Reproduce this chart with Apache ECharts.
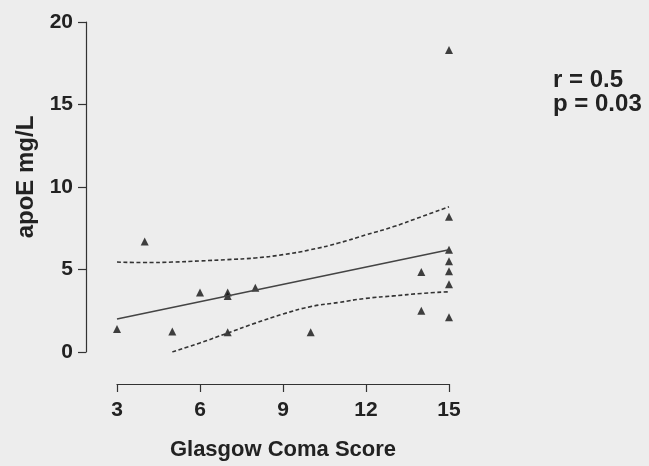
<!DOCTYPE html>
<html><head><meta charset="utf-8">
<script src="https://cdn.jsdelivr.net/npm/echarts@6/dist/echarts.min.js"></script>
<style>html,body{margin:0;padding:0;background:#ededed;}#c{width:649px;height:466px;}</style>
</head><body><div id="c"></div>
<script>
// Data
const gcsX = [3, 4, 5, 6, 7, 7, 7, 8, 10, 14, 14, 15, 15, 15, 15, 15, 15, 15];
const apoE = [1.4, 6.7, 1.25, 3.6, 3.4, 3.6, 1.2, 3.9, 1.2, 4.85, 2.5, 18.3, 8.2, 6.2, 5.5, 4.9, 4.1, 2.1];
const fitX = [3, 15];
const fitY = [2.0, 6.2];
const bandX = [3, 4, 5, 6, 7, 8, 9, 10, 11, 12, 13, 14, 15];
const upperBand = [5.45, 5.42, 5.45, 5.52, 5.6, 5.7, 5.9, 6.2, 6.6, 7.1, 7.6, 8.2, 8.8];
const lowerBand = [null, null, 0, 0.55, 1.15, 1.75, 2.3, 2.75, 3.0, 3.25, 3.4, 3.55, 3.65];
const xTicks = [3, 6, 9, 12, 15];
const yTicks = [0, 5, 10, 15, 20];
const statText = ['r = 0.5', 'p = 0.03'];

const pts = gcsX.map((x, i) => [x, apoE[i]]);
const fit = fitX.map((x, i) => [x, fitY[i]]);
const up = bandX.map((x, i) => [x, upperBand[i]]).filter(d => d[1] !== null);
const lo = bandX.map((x, i) => [x, lowerBand[i]]).filter(d => d[1] !== null);

const ink = '#222';
const font = '"Liberation Sans", Arial, sans-serif';
const chart = echarts.init(document.getElementById('c'));
chart.setOption({
  backgroundColor: '#ededed',
  animation: false,
  grid: { left: 117, right: 200, top: 22, bottom: 114 },
  xAxis: {
    type: 'value', min: 3, max: 15, interval: 3,
    offset: 32,
    name: 'Glasgow Coma Score', nameLocation: 'middle', nameGap: 55,
    nameTextStyle: { color: ink, fontSize: 22, fontWeight: 'bold', fontFamily: font },
    axisLine: { show: true, onZero: false, lineStyle: { color: '#333', width: 1.2 } },
    axisTick: { show: true, length: 8, lineStyle: { color: '#333', width: 1.2 } },
    axisLabel: { color: ink, fontSize: 21, fontWeight: 'bold', fontFamily: font, margin: 16,
      formatter: v => xTicks.includes(v) ? String(v) : '' },
    splitLine: { show: false }
  },
  yAxis: {
    type: 'value', min: 0, max: 20, interval: 5,
    offset: 31,
    name: 'apoE mg/L', nameLocation: 'middle', nameGap: 42, nameRotate: 90,
    nameTextStyle: { color: ink, fontSize: 24, fontWeight: 'bold', fontFamily: font, padding: [0, 0, 0, 20] },
    axisLine: { show: true, onZero: false, lineStyle: { color: '#333', width: 1.2 } },
    axisTick: { show: true, length: 8, lineStyle: { color: '#333', width: 1.2 } },
    axisLabel: { color: ink, fontSize: 21, fontWeight: 'bold', fontFamily: font, margin: 13,
      formatter: v => yTicks.includes(v) ? String(v) : '' },
    splitLine: { show: false }
  },
  series: [
    { type: 'line', data: up, showSymbol: false, smooth: true,
      lineStyle: { color: '#333', width: 1.6, type: [4, 2.5] } },
    { type: 'line', data: lo, showSymbol: false, smooth: true,
      lineStyle: { color: '#333', width: 1.6, type: [4, 2.5] } },
    { type: 'line', data: fit, showSymbol: false,
      lineStyle: { color: '#444', width: 1.6 } },
    { type: 'scatter', data: pts, symbol: 'triangle', symbolSize: 8,
      itemStyle: { color: '#111' } }
  ],
  graphic: statText.map((t, i) => ({
    type: 'text', x: 553, y: 80 + i * 24,
    style: { text: t, fill: ink, fontSize: 24, fontWeight: 'bold', fontFamily: font,
      textVerticalAlign: 'middle', verticalAlign: 'middle' }
  }))
});
</script></body></html>
